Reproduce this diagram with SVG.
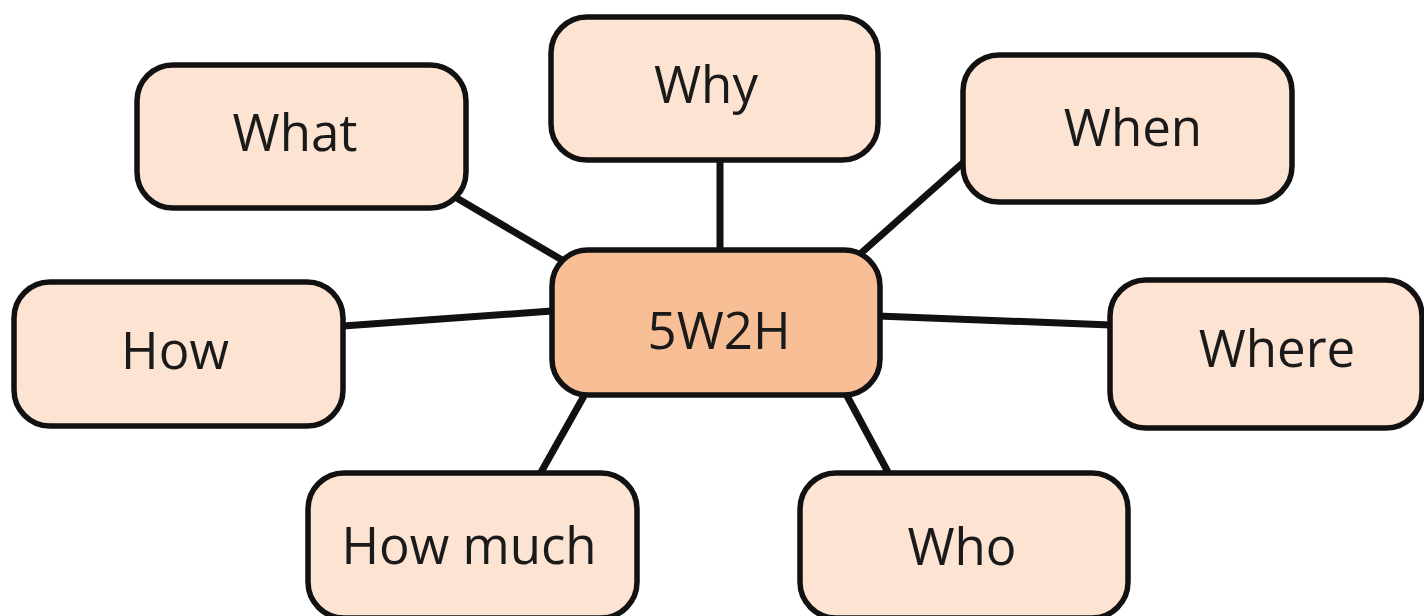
<svg xmlns="http://www.w3.org/2000/svg" width="1424" height="616" viewBox="0 0 1424 616">
  <style>
    .box { fill: #FCE3D2; stroke: #111; stroke-width: 5.5; }
    .center { fill: #F8BE96; stroke: #111; stroke-width: 5.5; }
    .lbl { font-family: "Open Sans", "Noto Sans", sans-serif; font-size: 51px; fill: #1a1a1a; text-anchor: middle; }
    .conn line { stroke: #111; stroke-width: 7; }
  </style>
  <rect width="1424" height="616" fill="#ffffff"/>
  <g id="connectors" class="conn">
    <line x1="455" y1="197" x2="562" y2="260"/>
    <line x1="720" y1="160" x2="720" y2="250"/>
    <line x1="966" y1="160" x2="860" y2="254"/>
    <line x1="343" y1="326" x2="552" y2="311"/>
    <line x1="878" y1="316" x2="1111" y2="325"/>
    <line x1="584" y1="396" x2="540" y2="474"/>
    <line x1="846" y1="394" x2="889" y2="474"/>
  </g>
  <g id="node-what">
    <rect class="box" x="137" y="65" width="329" height="143" rx="36"/>
    <text class="lbl" x="295" y="151">What</text>
  </g>
  <g id="node-why">
    <rect class="box" x="551" y="17" width="327" height="143" rx="36"/>
    <text class="lbl" x="706" y="103">Why</text>
  </g>
  <g id="node-when">
    <rect class="box" x="963" y="55" width="329" height="147" rx="36"/>
    <text class="lbl" x="1133" y="146">When</text>
  </g>
  <g id="node-how">
    <rect class="box" x="14" y="282" width="329" height="144" rx="36"/>
    <text class="lbl" x="175" y="369">How</text>
  </g>
  <g id="node-center">
    <rect class="center" x="552" y="250" width="328" height="145" rx="36"/>
    <text class="lbl" x="719" y="349">5W2H</text>
  </g>
  <g id="node-where">
    <rect class="box" x="1110" y="280" width="312" height="148" rx="36"/>
    <text class="lbl" x="1277" y="367">Where</text>
  </g>
  <g id="node-howmuch">
    <rect class="box" x="308" y="473" width="329" height="145" rx="36"/>
    <text class="lbl" x="469" y="564">How much</text>
  </g>
  <g id="node-who">
    <rect class="box" x="800" y="473" width="328" height="145" rx="36"/>
    <text class="lbl" x="962" y="565">Who</text>
  </g>
</svg>
